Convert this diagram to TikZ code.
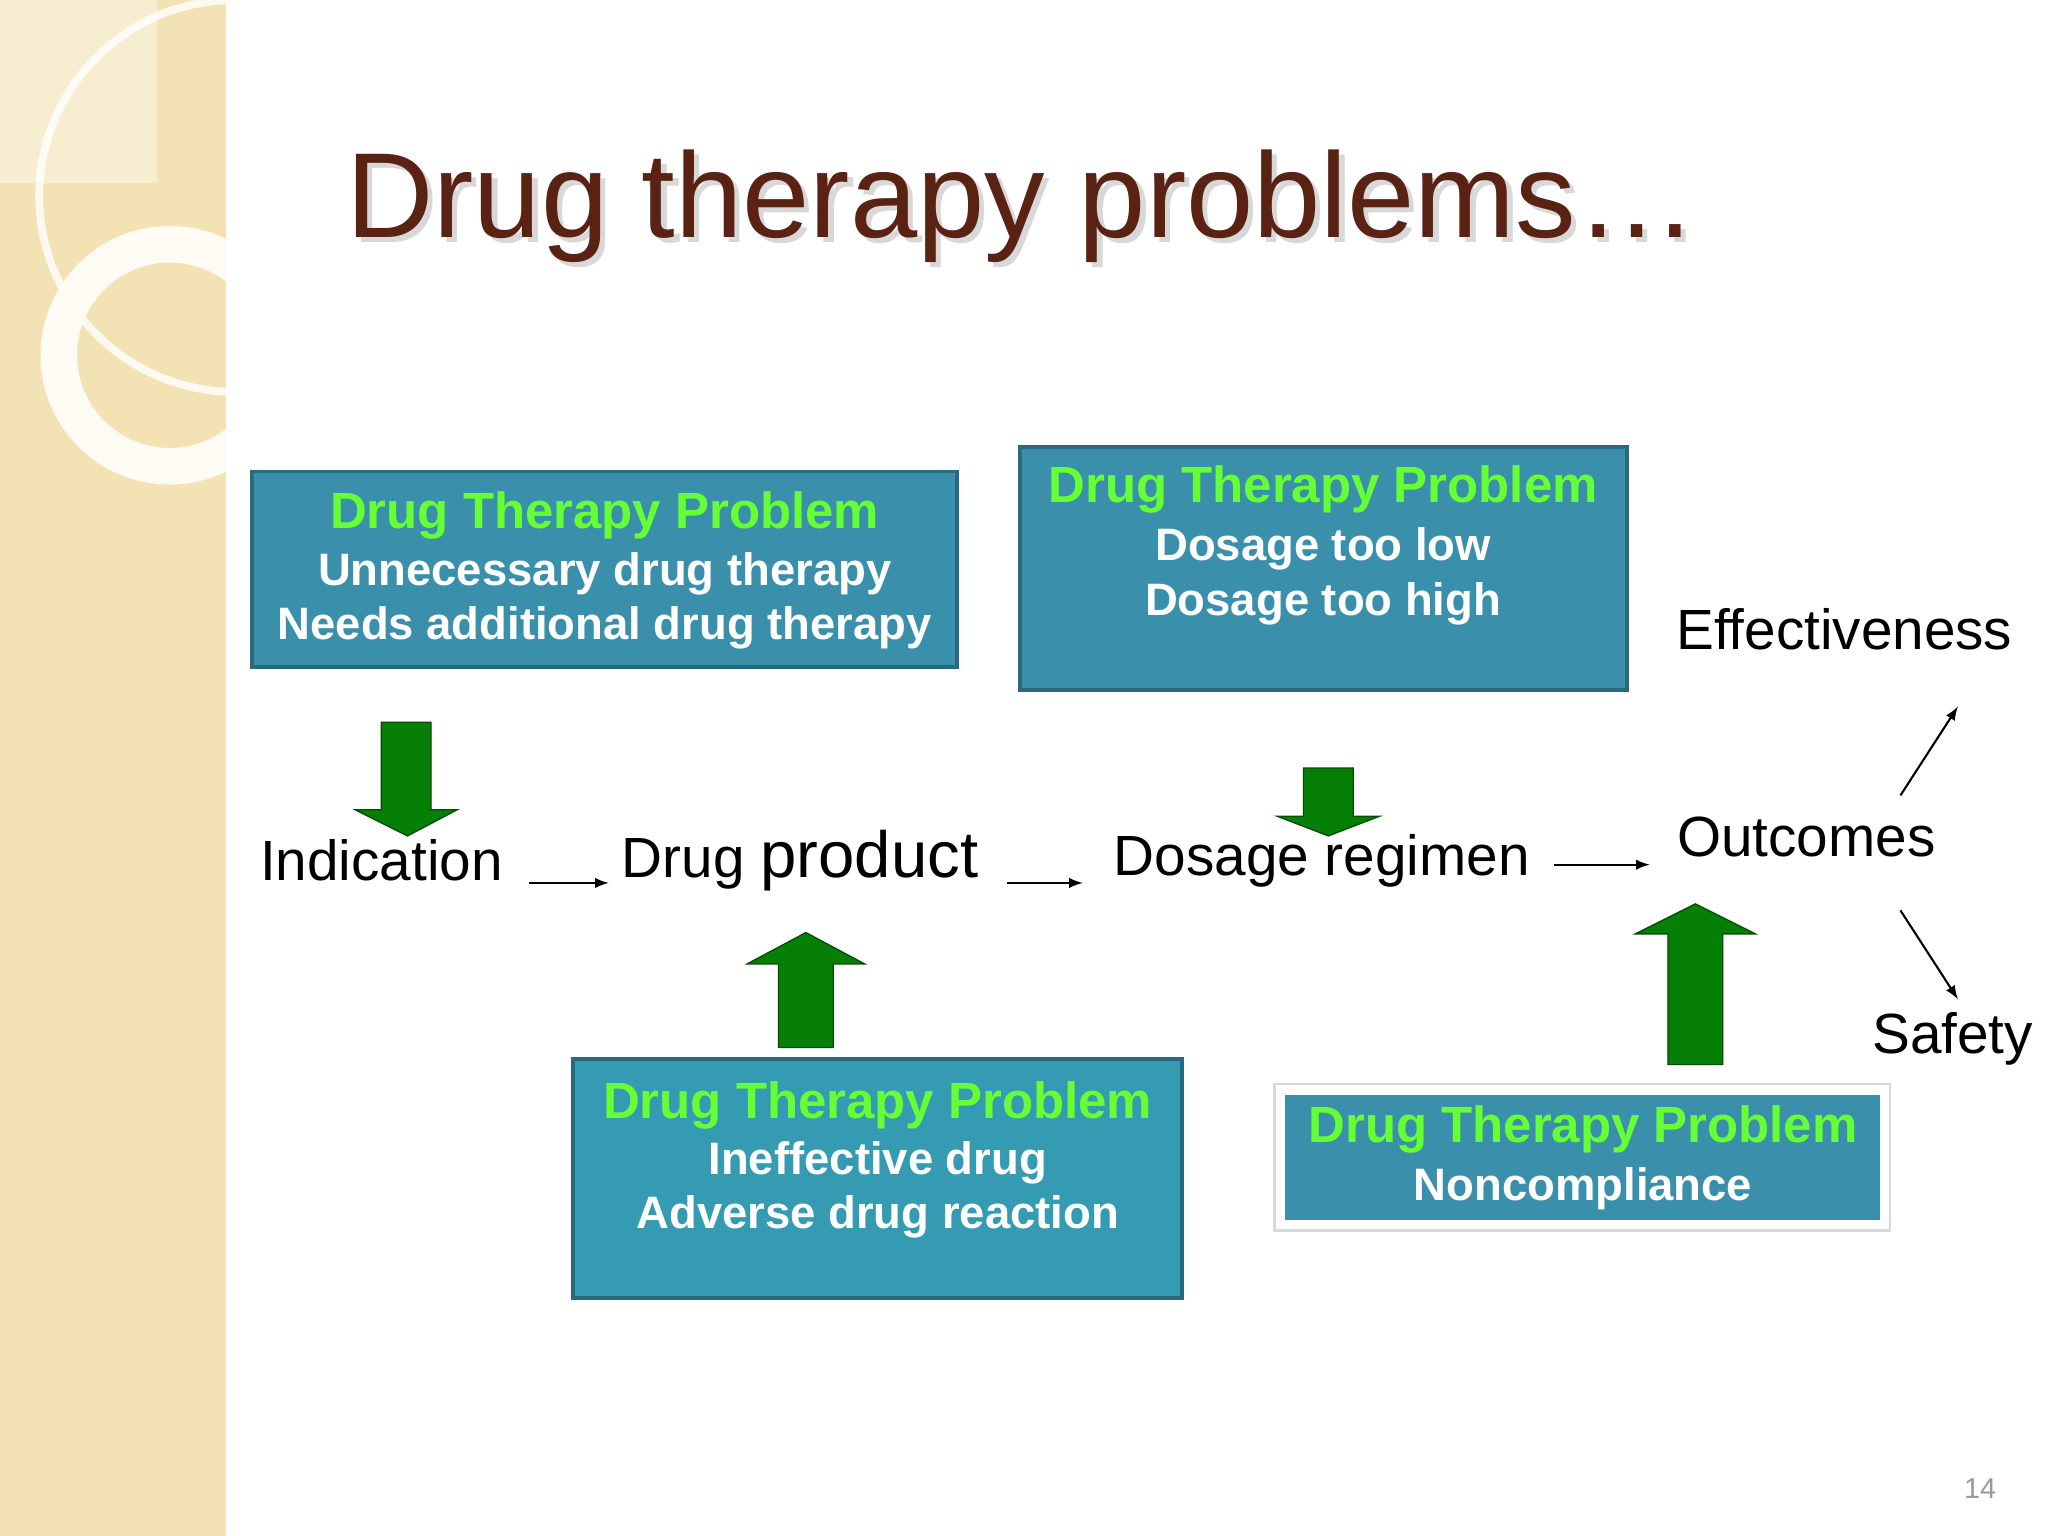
\documentclass[tikz,border=0pt]{standalone}
\usepackage{fontspec}
\setmainfont{Liberation Sans}
\definecolor{beige}{HTML}{F2E2B4}
\definecolor{boxfill}{HTML}{3A90AA}
\definecolor{boxline}{HTML}{2A6A80}
\definecolor{tgreen}{HTML}{66FF33}
\definecolor{agreen}{HTML}{067F06}
\definecolor{title}{HTML}{5A2212}
\begin{document}
\begin{tikzpicture}[x=0.5pt,y=-0.5pt,
 box/.style={draw=boxline,line width=1.5pt,fill=boxfill},
 hd/.style={text=tgreen,font=\bfseries\fontsize{19.5}{21}\selectfont},
 ln/.style={text=white,font=\bfseries\fontsize{17.4}{19}\selectfont},
 lbl/.style={font=\fontsize{21.7}{24}\selectfont},
 ga/.style={fill=agreen,draw=agreen!60!black,line width=0.5pt},
 thin/.style={-latex,line width=0.8pt}]
\useasboundingbox (0,0) rectangle (1568,1176);
\fill[white] (0,0) rectangle (1568,1176);
\fill[beige] (0,0) rectangle (173,1176);
\fill[beige!60!white] (0,0) rectangle (120,140);
\begin{scope}
\clip (0,0) rectangle (173,1176);
\draw[white,line width=3pt,opacity=0.8] (180,150) circle (150);
\draw[white!85!beige,line width=14pt] (130,272) circle (85);
\end{scope}
\node[anchor=base west,text=black!30,opacity=0.5,font=\fontsize{46.3}{50}\selectfont] at (262,186) {Drug therapy problems…};
\node[anchor=base west,text=title,font=\fontsize{46.3}{50}\selectfont] (t) at (258,182) {Drug therapy problems…};
% boxes
\draw[box] (193,361) rectangle (733,511);
\node[hd] (b1a) at (463,395) {Drug Therapy Problem};
\node[ln] (b1b) at (463,439) {Unnecessary drug therapy};
\node[ln] (b1c) at (463,481) {Needs additional drug therapy};
\draw[box] (781,342) rectangle (1246,528);
\node[hd] (b2a) at (1013,375) {Drug Therapy Problem};
\node[ln] (b2b) at (1013,420) {Dosage too low};
\node[ln] (b2c) at (1013,462) {Dosage too high};
\draw[box,fill=boxfill!90!cyan] (439,811) rectangle (905,994);
\node[hd] (b3a) at (672,846) {Drug Therapy Problem};
\node[ln] (b3b) at (672,890) {Ineffective drug};
\node[ln] (b3c) at (672,932) {Adverse drug reaction};
\draw[draw=black!15,line width=1pt,fill=white] (976,830) rectangle (1447,942);
\draw[box,draw=white,line width=2pt] (982,836) rectangle (1441,936);
\node[hd] (b4a) at (1212,865) {Drug Therapy Problem};
\node[ln] (b4b) at (1212,910) {Noncompliance};
% green arrows
\draw[ga] (292,553) -- (330,553) -- (330,620) -- (350,620) -- (312,640) -- (272,620) -- (292,620) -- cycle;
\draw[ga] (998,588) -- (1036,588) -- (1036,625) -- (1056,625) -- (1017,640) -- (978,625) -- (998,625) -- cycle;
\draw[ga] (596,802) -- (638,802) -- (638,738) -- (662,738) -- (617,714) -- (572,738) -- (596,738) -- cycle;
\draw[ga] (1277,815) -- (1319,815) -- (1319,715) -- (1344,715) -- (1298,692) -- (1252,715) -- (1277,715) -- cycle;
% labels
\node[lbl] (ind) at (292,659) {Indication};
\node[lbl,anchor=base west] (dp) at (469,672) {Drug {\fontsize{25}{27}\selectfont product}};
\node[lbl] (dr) at (1012,659) {Dosage regimen};
\node[lbl] (out) at (1383,641) {Outcomes};
\node[lbl] (eff) at (1412,482) {Effectiveness};
\node[lbl] (saf) at (1495,795) {Safety};
\coordinate (a1) at (405,676); \coordinate (a2) at (466,676);
\coordinate (a3) at (771,676); \coordinate (a4) at (829,676);
\coordinate (a5) at (1190,662); \coordinate (a6) at (1263,662);
\coordinate (a7) at (1455,609); \coordinate (a8) at (1499,541);
\coordinate (a9) at (1455,697); \coordinate (a10) at (1499,765);
\draw[thin] (a1) -- (a2);
\draw[thin] (a3) -- (a4);
\draw[thin] (a5) -- (a6);
\draw[thin] (a7) -- (a8);
\draw[thin] (a9) -- (a10);
\node[text=black!40,font=\fontsize{11}{12}\selectfont] (pg) at (1516,1140) {14};
\end{tikzpicture}
\end{document}
